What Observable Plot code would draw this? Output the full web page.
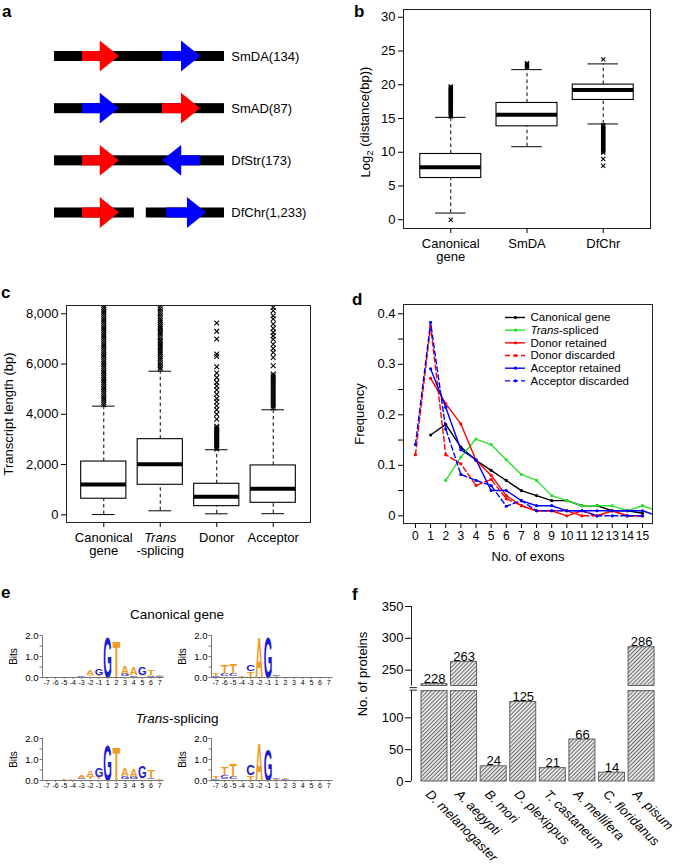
<!DOCTYPE html>
<html><head><meta charset="utf-8">
<script src="https://cdn.jsdelivr.net/npm/d3@7"></script>
<script src="https://cdn.jsdelivr.net/npm/@observablehq/plot@0.6"></script>
<style>
body{margin:0;background:#fff;font-family:'Liberation Sans',Arial,Helvetica,sans-serif;}
#root{position:relative;width:685px;height:868px;overflow:hidden;background:#fff;}
.lab{position:absolute;font-weight:bold;font-size:17px;line-height:17px;color:#000;}
.ttl{position:absolute;font-size:13.5px;line-height:13.5px;text-align:center;width:340px;color:#000;}
</style></head><body>
<svg width="0" height="0" style="position:absolute"><defs>
<pattern id="hatch" patternUnits="userSpaceOnUse" width="2.8" height="2.8" patternTransform="rotate(45)">
<rect width="2.8" height="2.8" fill="#e6e6e6"></rect>
<line x1="0.5" y1="0" x2="0.5" y2="2.8" stroke="#606060" stroke-width="0.9"></line>
</pattern></defs></svg>
<div id="root">
  <div class="lab" style="left:2px;top:3px">a</div>
  <div class="lab" style="left:354px;top:3px">b</div>
  <div class="lab" style="left:1px;top:284px">c</div>
  <div class="lab" style="left:352px;top:291px">d</div>
  <div class="lab" style="left:1px;top:584px">e</div>
  <div class="lab" style="left:352px;top:586px">f</div>
  <div class="ttl" style="left:7px;top:608px">Canonical gene</div>
  <div class="ttl" style="left:7px;top:712px"><i>Trans</i>-splicing</div>
</div>
<script>
// ================= DATA =================
// (a) schematic of splice-site pairs
const pairNames = ["SmDA(134)", "SmAD(87)", "DfStr(173)", "DfChr(1,233)"];
const geneBarRow = [0, 1, 2, 3, 3];
const geneBarStart = [0, 0, 0, 0, 54];
const geneBarEnd = [100, 100, 100, 47, 100];
const arrowRow = [0, 0, 1, 1, 2, 2, 3, 3];
const arrowTail = [16.5, 63.5, 16.5, 63.5, 16.5, 86, 16.5, 66];
const arrowTip = [38.2, 86, 38.2, 86, 38.2, 63.5, 38.2, 89.5];
const arrowPart = ["donor", "acceptor", "acceptor", "donor", "donor", "acceptor", "donor", "acceptor"];

// (b) log2 distance boxplots
const distGroups = ["Canonical\ngene", "SmDA", "DfChr"];
const distLow = [0.99, 10.82, 14.19];
const distQ1 = [6.18, 13.84, 17.75];
const distMedian = [7.76, 15.57, 19.23];
const distQ3 = [9.74, 17.30, 20.02];
const distHigh = [15.17, 22.24, 23.09];
const distOutliers = [
  [0.0, 15.3, 15.45, 15.6, 15.75, 15.9, 16.05, 16.2, 16.35, 16.5, 16.65, 16.8, 16.95, 17.1, 17.25, 17.4, 17.55, 17.7, 17.85, 18.0, 18.15, 18.3, 18.45, 18.6, 18.75, 18.9, 19.05, 19.2, 19.35, 19.5, 19.65, 19.75],
  [22.55, 22.7, 22.85, 23.0, 23.1, 23.2],
  [23.75, 14.0, 13.85, 13.7, 13.55, 13.4, 13.25, 13.1, 12.95, 12.8, 12.65, 12.5, 12.35, 12.2, 12.05, 11.9, 11.75, 11.6, 11.45, 11.3, 11.15, 11.0, 10.85, 10.7, 10.55, 10.4, 10.25, 10.1, 9.95, 9.0, 8.0]
];
const distTicks = [0, 5, 10, 15, 20, 25, 30];

// (c) transcript length boxplots
const lengthGroups = ["Canonical\ngene", "Trans\n-splicing", "Donor", "Acceptor"];
const lengthLow = [10, 160, 40, 45];
const lengthQ1 = [640, 1195, 345, 478];
const lengthMedian = [1205, 2015, 715, 1035];
const lengthQ3 = [2120, 3010, 1235, 1965];
const lengthHigh = [4325, 5715, 2590, 4180];
const lengthOutliers = [
  [4380,4470,4560,4650,4740,4830,4920,5010,5100,5190,5280,5370,5460,5550,5640,5730,5820,5910,6000,6090,6180,6270,6360,6450,6540,6630,6720,6810,6900,6990,7080,7170,7260,7350,7440,7530,7620,7710,7800,7890,7980,8070,8160,8250,8340],
  [5800,5870,5950,6050,6150,6230,6300,6400,6480,6560,6650,6720,6800,6880,6950,7050,7150,7230,7300,7400,7480,7560,7650,7720,7800,7900,8000,8100,8200,8300],
  [2620,2680,2740,2800,2860,2920,2980,3040,3100,3160,3220,3280,3340,3400,3460,3520,3800,4000,4180,4340,4500,4630,4800,4980,5130,5270,5460,5640,5890,6300,6400,7000,7300,7630],
  [4250,4330,4410,4490,4570,4650,4730,4810,4890,4970,5050,5130,5210,5290,5370,5450,5530,5600,5930,6260,6460,6620,6790,6990,7120,7260,7420,7590,7790,7920,8120,8250]
];
const lengthTicks = [0, 2000, 4000, 6000, 8000];

// (d) exon-number frequency
const exonN = [0, 1, 2, 3, 4, 5, 6, 7, 8, 9, 10, 11, 12, 13, 14, 15, 16];
const freqCanonical = [null, 0.160, 0.181, 0.136, 0.110, 0.090, 0.070, 0.050, 0.040, 0.030, 0.030, 0.020, 0.020, 0.010, 0.010, 0.005, null];
const freqTrans = [null, null, 0.070, 0.116, 0.152, 0.141, 0.111, 0.082, 0.070, 0.040, 0.030, 0.020, 0.020, 0.020, 0.010, 0.020, 0.010];
const freqDonorRet = [null, 0.272, 0.222, 0.182, 0.110, 0.080, 0.040, 0.020, 0.010, 0.010, 0.000, 0.010, 0.000, 0.010, 0.000, 0.000, null];
const freqDonorDis = [0.121, 0.375, 0.121, 0.103, 0.060, 0.072, 0.034, 0.020, 0.010, 0.010, 0.010, 0.000, 0.000, 0.010, 0.000, 0.000, null];
const freqAccRet = [null, 0.291, 0.215, 0.131, 0.111, 0.050, 0.050, 0.030, 0.020, 0.020, 0.010, 0.010, 0.010, 0.010, 0.010, 0.010, 0.000];
const freqAccDis = [0.141, 0.383, 0.172, 0.082, 0.070, 0.060, 0.019, 0.030, 0.010, 0.010, 0.010, 0.010, 0.000, 0.000, 0.000, 0.000, null];
const seriesNames = ["Canonical gene", "Trans-spliced", "Donor retained", "Donor discarded", "Acceptor retained", "Acceptor discarded"];
const exonTicks = [0, 1, 2, 3, 4, 5, 6, 7, 8, 9, 10, 11, 12, 13, 14, 15];
const freqTicks = [0, 0.05, 0.1, 0.15, 0.2, 0.25, 0.3, 0.35, 0.4];

// (e) sequence logos: per position, stacked [letter, bits] from bottom to top
const logoPositions = ["-7", "-6", "-5", "-4", "-3", "-2", "-1", "1", "2", "3", "4", "5", "6", "7"];
const logoCanonicalDonor = [
  [["T", 0.01]], [["C", 0.01], ["A", 0.01]], [["G", 0.01], ["T", 0.02]], [["C", 0.02], ["A", 0.02]],
  [["T", 0.03], ["G", 0.04]], [["G", 0.05], ["T", 0.06], ["A", 0.27]], [["A", 0.06], ["T", 0.08], ["G", 0.32]],
  [["G", 1.95]], [["T", 1.8]], [["C", 0.05], ["G", 0.1], ["A", 0.4]], [["T", 0.04], ["G", 0.06], ["A", 0.38]],
  [["T", 0.05], ["A", 0.08], ["G", 0.36]], [["G", 0.04], ["C", 0.05], ["A", 0.04], ["T", 0.26]], [["C", 0.03], ["G", 0.03], ["T", 0.07]]
];
const logoCanonicalAcceptor = [
  [["G", 0.03], ["C", 0.04], ["T", 0.13]], [["G", 0.05], ["C", 0.1], ["T", 0.43]], [["G", 0.05], ["C", 0.11], ["T", 0.5]],
  [["C", 0.02], ["T", 0.04]], [["A", 0.04], ["T", 0.26], ["C", 0.3]], [["A", 1.97]], [["G", 1.97]],
  [["A", 0.02], ["T", 0.03], ["G", 0.05]], [["C", 0.01], ["T", 0.02]], [["T", 0.01]], [["T", 0.01]], [["A", 0.01]], [["T", 0.01]], [["T", 0.01]]
];
const logoTransDonor = [
  [["T", 0.01]], [["A", 0.02]], [["C", 0.02], ["T", 0.03]], [["G", 0.04], ["A", 0.03]],
  [["G", 0.05], ["C", 0.06], ["A", 0.12]], [["G", 0.06], ["T", 0.12], ["A", 0.34]], [["A", 0.06], ["T", 0.1], ["G", 0.42]],
  [["G", 1.7]], [["T", 1.65]], [["C", 0.08], ["G", 0.14], ["A", 0.37]], [["T", 0.06], ["G", 0.12], ["A", 0.38]],
  [["T", 0.06], ["A", 0.08], ["G", 0.58]], [["G", 0.05], ["C", 0.08], ["T", 0.38]], [["G", 0.02], ["T", 0.04]]
];
const logoTransAcceptor = [
  [["C", 0.04], ["G", 0.03], ["T", 0.12]], [["A", 0.05], ["G", 0.08], ["C", 0.12], ["T", 0.4]], [["G", 0.06], ["C", 0.1], ["A", 0.06], ["T", 0.55]],
  [["T", 0.03]], [["A", 0.04], ["T", 0.2], ["C", 0.48]], [["A", 1.87]], [["G", 1.55]],
  [["C", 0.02], ["T", 0.04], ["G", 0.05]], [["C", 0.02], ["G", 0.03], ["T", 0.06]], [["T", 0.01]], [["T", 0.01]], [["A", 0.01]], [["T", 0.01]], [["T", 0.01]]
];

// (f) proteins per species
const species = ["D. melanogaster", "A. aegypti", "B. mori", "D. plexippus", "T. castaneum", "A. mellifera", "C. floridanus", "A. pisum"];
const proteinCounts = [228, 263, 24, 125, 21, 66, 14, 286];
const proteinTickLabels = [0, 50, 100, 250, 300, 350];

// ================= HELPERS =================
const root = document.getElementById("root");
const FONT = "'Liberation Sans', Arial, Helvetica, sans-serif";
const style = (size) => ({fontFamily: FONT, fontSize: size + "px", background: "transparent", color: "#000", overflow: "visible"});
function place(el, left, top) {
  el.style.position = "absolute"; el.style.left = left + "px"; el.style.top = top + "px"; el.style.maxWidth = "none";
  root.appendChild(el); return el;
}
const NS = "http://www.w3.org/2000/svg";
// italicise the word "Trans" when it stands alone or starts "Trans-..."
function italicTrans(svg) {
  svg.querySelectorAll("text, tspan").forEach(el => {
    if (el.querySelector("tspan")) return;
    const t = el.textContent;
    if (t === "Trans") { el.setAttribute("font-style", "italic"); return; }
    if (t.startsWith("Trans-")) {
      el.textContent = "";
      const a = document.createElementNS(NS, "tspan"); a.setAttribute("font-style", "italic"); a.textContent = "Trans";
      const b = document.createElementNS(NS, "tspan"); b.textContent = t.slice(5);
      el.append(a, b);
    }
  });
}
function subscript(svg, full, base, sub, rest) {
  svg.querySelectorAll("text").forEach(el => {
    if (el.textContent !== full) return;
    el.textContent = "";
    const a = document.createElementNS(NS, "tspan"); a.textContent = base;
    const b = document.createElementNS(NS, "tspan"); b.textContent = sub; b.setAttribute("dy", "0.3em"); b.setAttribute("font-size", "9.5px");
    const c = document.createElementNS(NS, "tspan"); c.textContent = rest; c.setAttribute("dy", "-0.3em");
    el.append(a, b, c);
  });
}

// ================= (a) =================
{
  const BAR = 0.096, HEAD_H = 0.295, HEAD_L = 11.3;
  const partColor = {donor: "#ff0000", acceptor: "#0000ff"};
  const bars = geneBarRow.map((r, k) => ({row: r, start: geneBarStart[k], end: geneBarEnd[k]}));
  const arrows = arrowRow.map((r, k) => ({row: r, tail: arrowTail[k], tip: arrowTip[k], color: partColor[arrowPart[k]]}));
  arrows.forEach(d => { d.base = d.tip - Math.sign(d.tip - d.tail) * HEAD_L; });
  const heads = arrows.flatMap((d, k) => [
    {id: k, x: d.base, y1: d.row - HEAD_H, y2: d.row + HEAD_H, color: d.color},
    {id: k, x: d.tip, y1: d.row, y2: d.row, color: d.color}
  ]);
  const svg = Plot.plot({
    width: 340, height: 250, marginLeft: 54, marginRight: 116, marginTop: 0, marginBottom: 0,
    style: style(13),
    x: {domain: [0, 100], axis: null},
    y: {domain: [0, 3], range: [56, 212.5], axis: null},
    color: {type: "identity"},
    marks: [
      Plot.rect(bars, {x1: "start", x2: "end", y1: d => d.row - BAR, y2: d => d.row + BAR, fill: "black"}),
      Plot.rect(arrows, {x1: "tail", x2: "base", y1: d => d.row - BAR, y2: d => d.row + BAR, fill: "color"}),
      Plot.area(heads, {x1: "x", x2: "x", y1: "y1", y2: "y2", z: "id", fill: "color"}),
      Plot.text(pairNames, {x: 104, y: (d, i) => i, text: d => d, textAnchor: "start", fontSize: 13})
    ]
  });
  place(svg, 0, 0);
}

// ================= box helper =================
function boxPanel(cfg) {
  const stats = cfg.groups.map((g, k) => ({i: k + 1, lo: cfg.low[k], q1: cfg.q1[k], med: cfg.med[k], q3: cfg.q3[k], hi: cfg.high[k]}));
  const outs = cfg.outliers.flatMap((arr, k) => arr.map(v => ({i: k + 1, v})));
  return Plot.plot({
    width: cfg.width, height: cfg.height,
    marginLeft: cfg.m[0], marginRight: cfg.m[1], marginTop: cfg.m[2], marginBottom: cfg.m[3],
    style: style(13),
    x: {domain: cfg.xDomain}, y: {domain: cfg.yDomain},
    marks: [
      Plot.ruleX(stats, {x: "i", y1: "q3", y2: "hi", strokeDasharray: "3.5,3", stroke: "black"}),
      Plot.ruleX(stats, {x: "i", y1: "lo", y2: "q1", strokeDasharray: "3.5,3", stroke: "black"}),
      Plot.ruleY(stats, {y: "hi", x1: d => d.i - 0.2, x2: d => d.i + 0.2, stroke: "black"}),
      Plot.ruleY(stats, {y: "lo", x1: d => d.i - 0.2, x2: d => d.i + 0.2, stroke: "black"}),
      Plot.rect(stats, {x1: d => d.i - 0.4, x2: d => d.i + 0.4, y1: "q1", y2: "q3", fill: "white", stroke: "black", strokeWidth: 1.1}),
      Plot.ruleY(stats, {y: "med", x1: d => d.i - 0.4, x2: d => d.i + 0.4, strokeWidth: 4, stroke: "black"}),
      Plot.dot(outs, {x: "i", y: "v", symbol: "times", r: cfg.r, stroke: "black", strokeWidth: 1.1, clip: true}),
      Plot.frame({stroke: "#222"}),
      Plot.axisY({ticks: cfg.yTicks, tickFormat: cfg.yFormat, tickSize: 5, tickPadding: 3, label: null}),
      Plot.axisX({ticks: stats.map(d => d.i), tickFormat: i => cfg.groups[i - 1], tickSize: 5, tickPadding: 5, label: null}),
      Plot.text([cfg.yLabel], {frameAnchor: "left", textAnchor: "middle", rotate: -90, dx: cfg.yLabelDx, dy: cfg.yLabelDy || 0, text: d => d, fontSize: 13})
    ]
  });
}

// ================= (b) =================
{
  const svg = boxPanel({
    groups: distGroups, low: distLow, q1: distQ1, med: distMedian, q3: distQ3, high: distHigh, outliers: distOutliers,
    width: 345, height: 290, m: [63, 35, 9, 62], xDomain: [0.38, 3.62], yDomain: [-1.3, 31.15],
    yTicks: distTicks, yFormat: d => String(d), r: 2,
    yLabel: "Log2 (distance(bp))", yLabelDx: -38, yLabelDy: 3
  });
  subscript(svg, "Log2 (distance(bp))", "Log", "2", " (distance(bp))");
  place(svg, 340, 0);
}

// ================= (c) =================
{
  const svg = boxPanel({
    groups: lengthGroups, low: lengthLow, q1: lengthQ1, med: lengthMedian, q3: lengthQ3, high: lengthHigh, outliers: lengthOutliers,
    width: 340, height: 300, m: [66, 30, 20, 63], xDomain: [0.34, 4.66], yDomain: [-306, 8330],
    yTicks: lengthTicks, yFormat: d3.format(","), r: 2.3,
    yLabel: "Transcript length (bp)", yLabelDx: -58, yLabelDy: 0
  });
  italicTrans(svg);
  place(svg, 0, 285);
}

// ================= (d) =================
{
  const styles = [
    {color: "#000000", dash: null}, {color: "#2ee02e", dash: null}, {color: "#ff0000", dash: null},
    {color: "#ff0000", dash: "5,3"}, {color: "#0000ff", dash: null}, {color: "#0000ff", dash: "5,3"}
  ];
  const valuesBySeries = [freqCanonical, freqTrans, freqDonorRet, freqDonorDis, freqAccRet, freqAccDis];
  const marks = [];
  valuesBySeries.forEach((vals, k) => {
    const s = styles[k];
    const pts = exonN.map((n, j) => ({x: n, y: vals[j]}));
    marks.push(Plot.line(pts, {x: "x", y: "y", stroke: s.color, strokeWidth: 1.4, strokeDasharray: s.dash || undefined, clip: true}));
    marks.push(Plot.dot(pts.filter(p => p.y != null), {x: "x", y: "y", r: 1.6, fill: s.color, clip: true}));
  });
  // legend (layout in data units of the frame)
  const LX1 = 5.95, LX2 = 7.27, LXT = 7.6, LY0 = 0.3927, LSTEP = 0.0251;
  seriesNames.forEach((name, k) => {
    const s = styles[k];
    const y = LY0 - k * LSTEP;
    marks.push(Plot.ruleY([y], {x1: LX1, x2: LX2, stroke: s.color, strokeWidth: 1.4, strokeDasharray: s.dash || undefined}));
    marks.push(Plot.dot([y], {x: (LX1 + LX2) / 2, y: d => d, r: 1.6, fill: s.color}));
    marks.push(Plot.text([name], {x: LXT, y: y, text: d => d, textAnchor: "start", fontSize: 11.5}));
  });
  const svg = Plot.plot({
    width: 345, height: 300, marginLeft: 63, marginRight: 33, marginTop: 19, marginBottom: 62,
    style: style(13),
    x: {domain: [-0.79, 15.66]}, y: {domain: [-0.0152, 0.4184]},
    marks: [
      ...marks,
      Plot.frame({stroke: "#222"}),
      Plot.axisX({ticks: exonTicks, tickSize: 5, tickPadding: 3, fontSize: 12, label: null}),
      Plot.axisY({ticks: freqTicks, tickFormat: d => { const r = Math.round(d * 100); return r % 10 === 0 ? String(r / 100) : ""; }, tickSize: 5, tickPadding: 3, label: null}),
      Plot.text(["No. of exons"], {frameAnchor: "bottom", dy: 37, text: d => d, fontSize: 13}),
      Plot.text(["Frequency"], {frameAnchor: "left", textAnchor: "middle", rotate: -90, dx: -44, text: d => d, fontSize: 13})
    ]
  });
  italicTrans(svg);
  place(svg, 340, 285);
}

// ================= (e) =================
function logoPanel(columns, left, top) {
  const nucColor = {A: "#f39a1e", T: "#f39a1e", C: "#1c1cd0", G: "#1c1cd0"};
  const inkWidth = {A: 0.70, C: 0.64, G: 0.69, T: 0.60};
  const letters = [];
  columns.forEach((col, i) => { let base = 0; col.forEach(([ch, h]) => { letters.push({i, ch, y0: base, y1: base + h}); base += h; }); });
  const drawn = letters.filter(d => d.y1 - d.y0 >= 0.025); // thinner glyphs are invisible at this size
  const W = 170, H = 75, ML = 42, MR = 6.4, MT = 10, MB = 23, F = 20;
  const pxPerBit = (H - MT - MB) / 2;
  const step = (W - ML - MR) / logoPositions.length;
  const svg = Plot.plot({
    width: W, height: H, marginLeft: ML, marginRight: MR, marginTop: MT, marginBottom: MB,
    style: style(9),
    x: {domain: [-0.5, logoPositions.length - 0.5]}, y: {domain: [0, 2]},
    color: {type: "identity"},
    marks: [
      Plot.text(drawn, {x: "i", y: "y0", text: "ch", fill: d => nucColor[d.ch], fontSize: F, fontWeight: "bold", lineAnchor: "bottom"}),
      Plot.ruleX([-0.5], {y1: 0, y2: 2, stroke: "#777"}),
      Plot.ruleY([0], {x1: -0.5, x2: logoPositions.length - 0.5, stroke: "#777"}),
      Plot.axisY({ticks: [0, 0.5, 1, 1.5, 2], tickFormat: d => Number.isInteger(d) ? d.toFixed(1) : "", tickSize: 2.5, tickPadding: 1.5, stroke: "#777", fontSize: 9.5, label: null}),
      Plot.axisX({ticks: logoPositions.map((_, k) => k), tickFormat: k => logoPositions[k], tickSize: 2, tickPadding: 1, stroke: "#777", fontSize: 7, label: null}),
      Plot.text(["Bits"], {frameAnchor: "left", textAnchor: "middle", rotate: -90, dx: -29, text: d => d, fontSize: 10})
    ]
  });
  // stretch each glyph to its information height (sequence-logo style)
  const group = Array.from(svg.querySelectorAll("g")).find(g =>
    g.getAttribute("aria-label") === "text" && g.querySelectorAll(":scope > text").length === drawn.length);
  if (group) {
    group.querySelectorAll(":scope > text").forEach((el, k) => {
      const d = drawn[k];
      const h = (d.y1 - d.y0) * pxPerBit;
      const sy = h / (0.72 * F);
      const sx = (step * 0.88) / (inkWidth[d.ch] * F);
      let tr = el.getAttribute("transform");
      if (!tr) { tr = `translate(${el.getAttribute("x") || 0},${el.getAttribute("y") || 0})`; el.removeAttribute("x"); el.removeAttribute("y"); }
      el.setAttribute("transform", `${tr} scale(${sx.toFixed(4)},${sy.toFixed(4)})`);
    });
  }
  place(svg, left, top);
}
logoPanel(logoCanonicalDonor, 0, 625);
logoPanel(logoCanonicalAcceptor, 169, 625);
logoPanel(logoTransDonor, 0, 728);
logoPanel(logoTransAcceptor, 169, 728);

// ================= (f) =================
{
  const BREAK_LOW = 142, BREAK_HIGH = 225, BREAK_SHIFT = 75;
  const tv = v => (v >= BREAK_HIGH ? v - BREAK_SHIFT : v);
  const X_MIN = -0.778, X_MAX = 7.64, HALF = 0.44;
  const rows = species.map((s, i) => ({i, s, v: proteinCounts[i]}));
  const lower = rows.map(d => ({i: d.i, y1: 0, y2: Math.min(d.v, BREAK_LOW)}));
  const upper = rows.filter(d => d.v > BREAK_HIGH).map(d => ({i: d.i, y1: tv(BREAK_HIGH), y2: tv(d.v)}));
  const tickPos = proteinTickLabels.map(tv);
  const svg = Plot.plot({
    width: 345, height: 288, marginLeft: 71, marginRight: 25, marginTop: 26, marginBottom: 87,
    style: style(13),
    x: {domain: [X_MIN, X_MAX], axis: null}, y: {domain: [0, tv(350)]},
    marks: [
      Plot.rect(lower, {x1: d => d.i - HALF, x2: d => d.i + HALF, y1: "y1", y2: "y2", fill: "url(#hatch)", stroke: "#555", strokeWidth: 0.9}),
      Plot.rect(upper, {x1: d => d.i - HALF, x2: d => d.i + HALF, y1: "y1", y2: "y2", fill: "url(#hatch)", stroke: "#555", strokeWidth: 0.9}),
      Plot.text(rows, {x: "i", y: d => tv(d.v), text: d => String(d.v), lineAnchor: "bottom", dy: -1, fontSize: 13}),
      Plot.text(rows, {x: "i", y: 0, text: "s", rotate: 45, textAnchor: "start", lineAnchor: "top", fontStyle: "italic", dx: -3, dy: 7, fontSize: 13}),
      Plot.ruleX([{y1: 0, y2: BREAK_LOW}, {y1: tv(BREAK_HIGH), y2: tv(350)}], {x: X_MIN, y1: "y1", y2: "y2", stroke: "#222"}),
      Plot.ruleY([BREAK_LOW + 1.5, tv(BREAK_HIGH) - 2.5], {x1: X_MIN - 0.05, x2: X_MIN + 0.2, stroke: "#222"}),
      Plot.axisY({ticks: tickPos, tickFormat: t => String(proteinTickLabels[tickPos.indexOf(t)]), tickSize: 6, tickPadding: 2, label: null}),
      Plot.text(["No. of proteins"], {frameAnchor: "left", textAnchor: "middle", rotate: -90, dx: -49, dy: -20, text: d => d, fontSize: 13})
    ]
  });
  place(svg, 340, 580);
}
</script>
</body></html>
